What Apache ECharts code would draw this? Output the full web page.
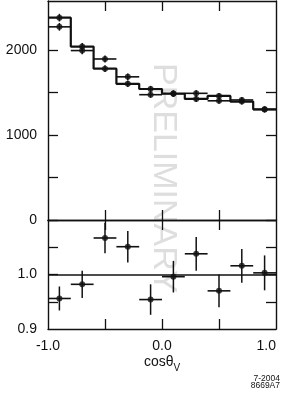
<!DOCTYPE html>
<html>
<head>
<meta charset="utf-8">
<script src="https://cdn.jsdelivr.net/npm/echarts@6/dist/echarts.min.js"></script>
<style>
html,body{margin:0;padding:0;background:#fff;}
#c{width:281px;height:393px;}
</style>
</head>
<body>
<div id="c"></div>
<script>
// ---- data ----
const binEdges   = [-1.0, -0.8, -0.6, -0.4, -0.2, 0.0, 0.2, 0.4, 0.6, 0.8, 1.0];
const binCenters = [-0.9, -0.7, -0.5, -0.3, -0.1, 0.1, 0.3, 0.5, 0.7, 0.9];
const histValues = [2380, 2040, 1780, 1602, 1541, 1488, 1424, 1459, 1393, 1302];
const histErr    = [45, 42, 40, 38, 37, 37, 36, 36, 35, 34];
const dataValues = [2272, 1993, 1894, 1684, 1474, 1484, 1490, 1402, 1412, 1300];
const dataErr    = [45, 42, 40, 38, 37, 37, 36, 36, 35, 34];
const ratioValues = [0.956, 0.982, 1.067, 1.051, 0.954, 0.996, 1.038, 0.970, 1.016, 1.003];
const ratioErr    = [0.022, 0.025, 0.028, 0.029, 0.028, 0.029, 0.031, 0.030, 0.031, 0.032];
const topYTicks  = [0, 500, 1000, 1500, 2000];
const topYLabels = [0, 1000, 2000];
const botYTicks  = [0.95, 1.0, 1.05];
const botYLabels = [0.9, 1.0];
const xTicks     = [-0.5, 0.0, 0.5];
const xLabels    = [-1.0, 0.0, 1.0];
const ratioRef   = 1.0;

const halfW = (binEdges[1] - binEdges[0]) / 2;
const FONT = '"Liberation Sans", Arial, Helvetica, sans-serif';
const INK = '#111';

const chart = echarts.init(document.getElementById('c'), null, {renderer: 'canvas'});

function errItem(horiz) {
  return function (params, api) {
    const x = api.value(0), y = api.value(1), e = api.value(2);
    const p = api.coord([x, y]);
    const t = api.coord([x, y + e]);
    const b = api.coord([x, y - e]);
    const children = [{
      type: 'line',
      shape: {x1: p[0], y1: t[1], x2: p[0], y2: b[1]},
      style: {stroke: INK, lineWidth: 1.5}
    }];
    if (horiz) {
      const l = api.coord([x - halfW, y]);
      const r = api.coord([x + halfW, y]);
      children.push({
        type: 'line',
        shape: {x1: l[0], y1: p[1], x2: r[0], y2: p[1]},
        style: {stroke: INK, lineWidth: 1.6}
      });
    }
    return {type: 'group', children};
  };
}

const stepData = binEdges.map((e, i) => [e, histValues[Math.min(i, histValues.length - 1)]]);
const histPts  = binCenters.map((c, i) => [c, histValues[i], histErr[i]]);
const dataPts  = binCenters.map((c, i) => [c, dataValues[i], dataErr[i]]);
const ratioPts = binCenters.map((c, i) => [c, ratioValues[i], ratioErr[i]]);

const axisLineStyle = {show: true, onZero: false, lineStyle: {color: INK, width: 1.4}};
const tickStyle = (vals) => ({show: true, inside: true, length: 10, customValues: vals, lineStyle: {color: INK, width: 1.3}});

function xAx(grid, pos, labels) {
  return {
    type: 'value', gridIndex: grid, position: pos, min: -1, max: 1,
    axisLine: axisLineStyle,
    axisTick: tickStyle(xTicks),
    splitLine: {show: false},
    axisLabel: labels ? {
      show: true, customValues: xLabels, margin: 10, fontSize: 14, fontFamily: FONT, color: INK,
      formatter: v => v.toFixed(1), alignMaxLabel: 'right'
    } : {show: false}
  };
}
function yAx(grid, pos, min, max, ticks, labels, fmt) {
  return {
    type: 'value', gridIndex: grid, position: pos, min: min, max: max,
    axisLine: axisLineStyle,
    axisTick: tickStyle(ticks),
    splitLine: {show: false},
    axisLabel: labels ? {
      show: true, customValues: labels, margin: 11, fontSize: 14, fontFamily: FONT, color: INK,
      formatter: fmt
    } : {show: false}
  };
}

// measure title width
const mctx = document.createElement('canvas').getContext('2d');
mctx.font = '14px ' + FONT;
const wMain = mctx.measureText('cos\u03b8').width;
mctx.font = '10px ' + FONT;
const wSub = mctx.measureText('V').width;
const titleX = 162 - (wMain + wSub) / 2;

const option = {
  animation: false,
  backgroundColor: '#fff',
  grid: [
    {left: 48, right: 5, top: 1, height: 219},
    {left: 48, right: 5, top: 220, height: 109}
  ],
  xAxis: [
    xAx(0, 'bottom', false),
    xAx(0, 'top', false),
    xAx(1, 'bottom', true),
    xAx(1, 'top', false)
  ],
  yAxis: [
    yAx(0, 'left', 0, 2576, topYTicks, topYLabels, v => String(v)),
    yAx(0, 'right', 0, 2576, topYTicks, null),
    yAx(1, 'left', 0.9, 1.1, botYTicks, botYLabels, v => v.toFixed(1)),
    yAx(1, 'right', 0.9, 1.1, botYTicks, null)
  ],
  graphic: [
    {
      type: 'text', x: 146, y: 63, rotation: -Math.PI / 2, z: -10, silent: true,
      style: {text: 'PRELIMINARY', fontSize: 34, fontFamily: FONT, fill: '#dedede',
              textAlign: 'left', textVerticalAlign: 'bottom'}
    },
    {
      type: 'text', x: titleX, y: 369, silent: true,
      style: {text: 'cos\u03b8', fontSize: 14, fontFamily: FONT, fill: INK, textAlign: 'left', textVerticalAlign: 'bottom'}
    },
    {
      type: 'text', x: titleX + wMain, y: 373, silent: true,
      style: {text: 'V', fontSize: 10, fontFamily: FONT, fill: INK, textAlign: 'left', textVerticalAlign: 'bottom'}
    },
    {
      type: 'text', x: 280, y: 383, silent: true,
      style: {text: '7-2004', fontSize: 8.5, fontFamily: FONT, fill: INK, textAlign: 'right', textVerticalAlign: 'bottom'}
    },
    {
      type: 'text', x: 280, y: 390, silent: true,
      style: {text: '8669A7', fontSize: 8.5, fontFamily: FONT, fill: INK, textAlign: 'right', textVerticalAlign: 'bottom'}
    }
  ],
  series: [
    {
      type: 'line', xAxisIndex: 0, yAxisIndex: 0, data: stepData, step: 'end',
      symbol: 'none', lineStyle: {color: INK, width: 2.2}, z: 3
    },
    {
      type: 'custom', xAxisIndex: 0, yAxisIndex: 0, data: histPts,
      encode: {x: 0, y: 1}, renderItem: errItem(false), z: 4
    },
    {
      type: 'scatter', xAxisIndex: 0, yAxisIndex: 0, data: histPts.map(d => [d[0], d[1]]),
      symbol: 'circle', symbolSize: 6, itemStyle: {color: INK}, z: 5
    },
    {
      type: 'custom', xAxisIndex: 0, yAxisIndex: 0, data: dataPts,
      encode: {x: 0, y: 1}, renderItem: errItem(true), z: 4
    },
    {
      type: 'scatter', xAxisIndex: 0, yAxisIndex: 0, data: dataPts.map(d => [d[0], d[1]]),
      symbol: 'circle', symbolSize: 6, itemStyle: {color: INK}, z: 5
    },
    {
      type: 'custom', xAxisIndex: 2, yAxisIndex: 2, data: ratioPts,
      encode: {x: 0, y: 1}, renderItem: errItem(true), z: 4
    },
    {
      type: 'scatter', xAxisIndex: 2, yAxisIndex: 2, data: ratioPts.map(d => [d[0], d[1]]),
      symbol: 'circle', symbolSize: 6, itemStyle: {color: INK}, z: 5,
      markLine: {
        silent: true, symbol: 'none', label: {show: false},
        lineStyle: {color: INK, width: 1.5, type: 'solid'},
        data: [{yAxis: ratioRef}]
      }
    }
  ]
};
chart.setOption(option);
</script>
</body>
</html>
